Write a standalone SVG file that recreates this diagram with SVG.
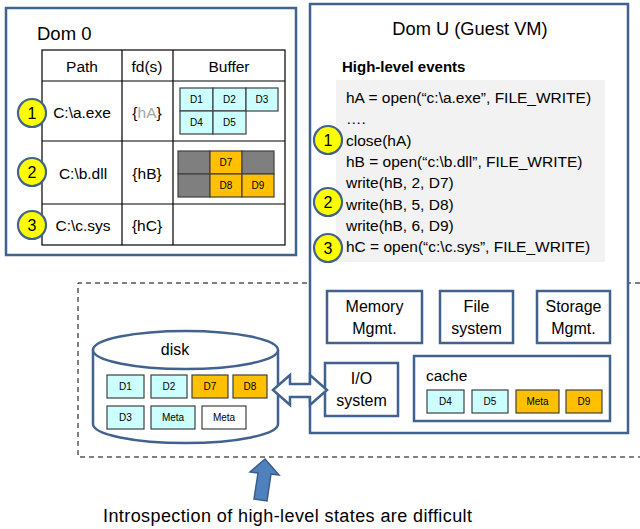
<svg xmlns="http://www.w3.org/2000/svg" width="640" height="529" viewBox="0 0 640 529">
<style>
text{font-family:"Liberation Sans",Arial,sans-serif;fill:#000}
.box{fill:#fff;stroke:#41628E;stroke-width:2.5}
.tbl{fill:none;stroke:#000;stroke-width:1.2}
.cy{fill:#CCFFFF;stroke:#404040;stroke-width:1.2}
.or{fill:#FFC000;stroke:#404040;stroke-width:1.2}
.gr{fill:#7F7F7F;stroke:#404040;stroke-width:1.2}
.wh{fill:#fff;stroke:#404040;stroke-width:1.2}
.c{font-size:10px;text-anchor:middle}
.num{fill:#FFFF00;stroke:#41628E;stroke-width:2.2}
.n{font-size:16px;text-anchor:middle}
.t{font-size:15.5px;text-anchor:middle}
.code{font-size:15.5px}
.lbl{font-size:16px;text-anchor:middle}
</style>
<rect width="640" height="529" fill="#fff"/>

<g id="dashed-region">
<path d="M640 283 H78 V457 H640" fill="none" stroke="#000" stroke-width="1" stroke-dasharray="5,4"/>
</g>

<g id="dom0">
<rect class="box" x="6" y="8" width="290" height="247"/>
<text x="37" y="40" font-size="18.5">Dom 0</text>
<rect class="tbl" x="42" y="50" width="243" height="195"/>
<path class="tbl" d="M122 50V245M173 50V245M42 81H285M42 141H285M42 204H285"/>
<text class="t" x="82" y="72">Path</text>
<text class="t" x="147" y="72">fd(s)</text>
<text class="t" x="229" y="72">Buffer</text>
<text class="t" x="82" y="118">C:\a.exe</text>
<text class="t" x="147" y="118">{<tspan fill="#A6A6A6">hA</tspan>}</text>
<text class="t" x="83" y="179">C:\b.dll</text>
<text class="t" x="147" y="179">{hB}</text>
<text class="t" x="83" y="231">C:\c.sys</text>
<text class="t" x="147" y="231">{hC}</text>
<g id="buf-a">
<rect class="cy" x="180" y="88" width="33" height="23"/><text class="c" x="196.5" y="103">D1</text>
<rect class="cy" x="213" y="88" width="33" height="23"/><text class="c" x="229.5" y="103">D2</text>
<rect class="cy" x="246" y="88" width="32" height="23"/><text class="c" x="262" y="103">D3</text>
<rect class="cy" x="180" y="111" width="33" height="23"/><text class="c" x="196.5" y="126">D4</text>
<rect class="cy" x="213" y="111" width="33" height="23"/><text class="c" x="229.5" y="126">D5</text>
</g>
<g id="buf-b">
<rect class="gr" x="178" y="151" width="32" height="23"/>
<rect class="or" x="210" y="151" width="32" height="23"/><text class="c" x="226" y="166">D7</text>
<rect class="gr" x="242" y="151" width="32" height="23"/>
<rect class="gr" x="178" y="174" width="32" height="23"/>
<rect class="or" x="210" y="174" width="32" height="23"/><text class="c" x="226" y="189">D8</text>
<rect class="or" x="242" y="174" width="32" height="23"/><text class="c" x="258" y="189">D9</text>
</g>
<circle class="num" cx="32" cy="113" r="14"/><text class="n" x="32" y="119">1</text>
<circle class="num" cx="32" cy="172" r="14"/><text class="n" x="32" y="178">2</text>
<circle class="num" cx="32" cy="225" r="14"/><text class="n" x="32" y="231">3</text>
</g>

<g id="domU">
<rect class="box" x="310" y="4" width="318" height="429"/>
<text x="470" y="35" font-size="18.3" text-anchor="middle">Dom U (Guest VM)</text>
<text x="342" y="72" font-size="15" font-weight="bold">High-level events</text>
<rect x="336" y="80" width="269" height="182" fill="#F2F2F2"/>
<text class="code" x="346" y="103">hA = open(“c:\a.exe”, FILE_WRITE)</text>
<text class="code" x="346" y="124">….</text>
<text class="code" x="346" y="146">close(hA)</text>
<text class="code" x="346" y="167">hB = open(“c:\b.dll”, FILE_WRITE)</text>
<text class="code" x="346" y="188">write(hB, 2, D7)</text>
<text class="code" x="346" y="210">write(hB, 5, D8)</text>
<text class="code" x="346" y="231">write(hB, 6, D9)</text>
<text class="code" x="346" y="252">hC = open(“c:\c.sys”, FILE_WRITE)</text>
<circle class="num" cx="328" cy="140" r="14"/><text class="n" x="328" y="146">1</text>
<circle class="num" cx="328" cy="202" r="14"/><text class="n" x="328" y="208">2</text>
<circle class="num" cx="328" cy="248" r="14"/><text class="n" x="328" y="254">3</text>
</g>

<g id="memory-mgmt">
<rect class="box" x="327" y="291" width="95" height="52"/>
<text class="lbl" x="374.5" y="312">Memory</text>
<text class="lbl" x="374.5" y="334">Mgmt.</text>
</g>
<g id="file-system">
<rect class="box" x="440" y="291" width="73" height="52"/>
<text class="lbl" x="476.5" y="312">File</text>
<text class="lbl" x="476.5" y="334">system</text>
</g>
<g id="storage-mgmt">
<rect class="box" x="537" y="291" width="73" height="52"/>
<text class="lbl" x="573.5" y="312">Storage</text>
<text class="lbl" x="573.5" y="334">Mgmt.</text>
</g>
<g id="io-system">
<rect class="box" x="325" y="363" width="73" height="53"/>
<text class="lbl" x="361.5" y="384">I/O</text>
<text class="lbl" x="361.5" y="406">system</text>
</g>
<g id="cache">
<rect class="box" x="414" y="356" width="196" height="65"/>
<text x="426" y="381" font-size="15.5">cache</text>
<rect class="cy" x="427" y="390" width="37" height="23"/><text class="c" x="445.5" y="405">D4</text>
<rect class="cy" x="472" y="390" width="36" height="23"/><text class="c" x="490" y="405">D5</text>
<rect class="or" x="516" y="390" width="43" height="23"/><text class="c" x="537.5" y="405">Meta</text>
<rect class="or" x="566" y="390" width="36" height="23"/><text class="c" x="584" y="405">D9</text>
</g>

<g id="disk">
<path d="M93 350 V424 A92.5 19 0 0 0 278 424 V350" fill="#fff" stroke="#41628E" stroke-width="2.5"/>
<ellipse cx="185.5" cy="350" rx="92.5" ry="19" fill="#fff" stroke="#41628E" stroke-width="2.5"/>
<text x="175" y="355" font-size="16" text-anchor="middle">disk</text>
<rect class="cy" x="107" y="375" width="37" height="23"/><text class="c" x="125.5" y="390">D1</text>
<rect class="cy" x="151" y="375" width="36" height="23"/><text class="c" x="169" y="390">D2</text>
<rect class="or" x="192" y="375" width="36" height="23"/><text class="c" x="210" y="390">D7</text>
<rect class="or" x="233" y="375" width="34" height="23"/><text class="c" x="250" y="390">D8</text>
<rect class="cy" x="107" y="406" width="37" height="23"/><text class="c" x="125.5" y="421">D3</text>
<rect class="cy" x="151" y="406" width="44" height="23"/><text class="c" x="173" y="421">Meta</text>
<rect class="wh" x="202" y="406" width="44" height="23"/><text class="c" x="224" y="421">Meta</text>
</g>

<g id="connectors">
<path d="M273 390 L290 375 V384 H310 V375 L327 390 L310 405 V397 H290 V405 Z" fill="#fff" stroke="#41628E" stroke-width="2.5" stroke-linejoin="miter"/>
<path d="M265 459 L279 475 L271 474 L267 501 L254 499 L258 473 L250 472 Z" fill="#4F81BD" stroke="#385D8A" stroke-width="1.5"/>
</g>

<text x="103" y="522" font-size="18" textLength="369" lengthAdjust="spacing">Introspection of high-level states are difficult</text>
</svg>
